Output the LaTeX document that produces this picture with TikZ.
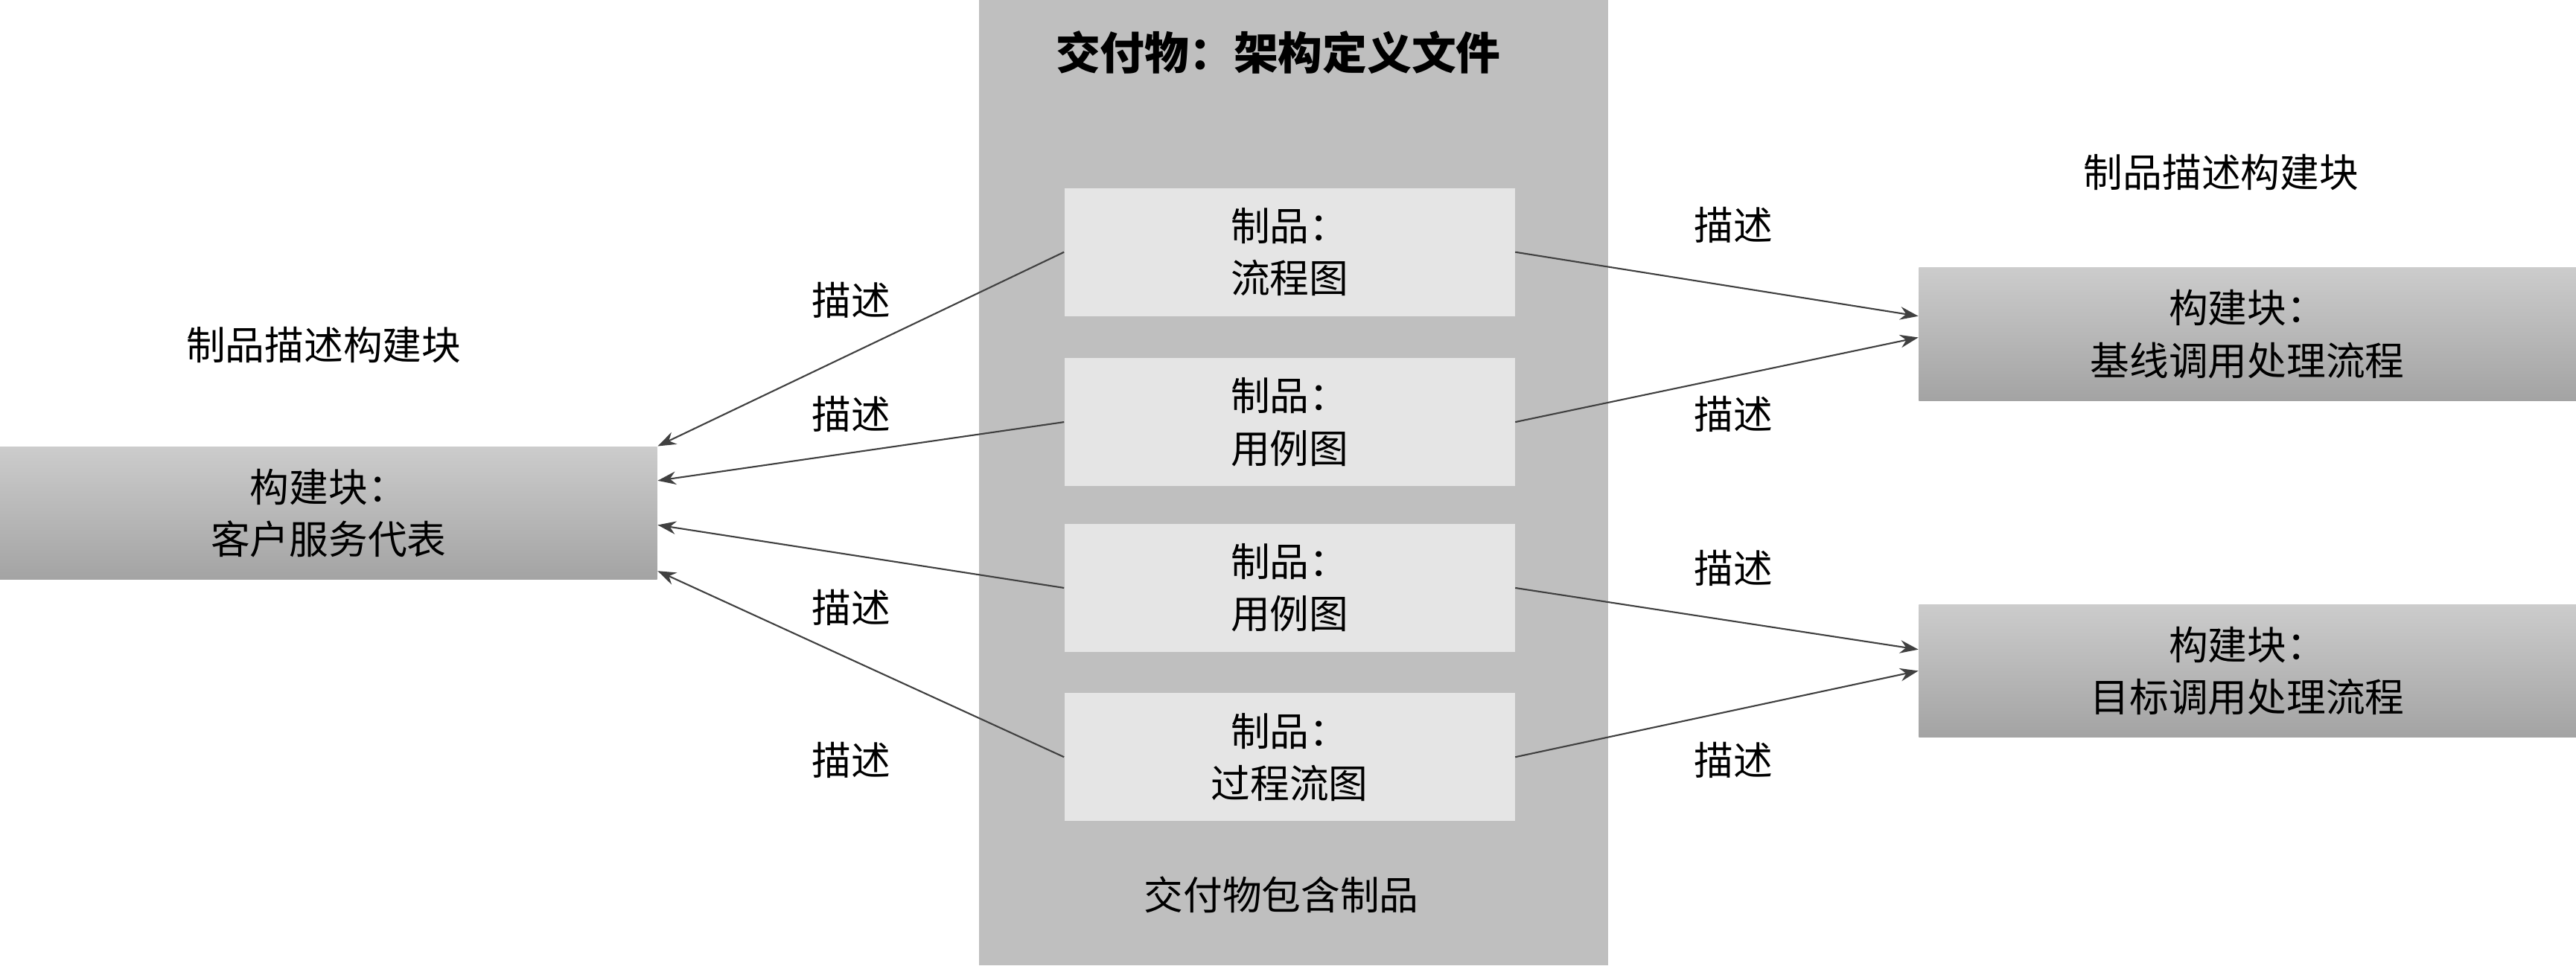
\documentclass[tikz,border=0pt]{standalone}
\usepackage{fontspec}
\setmainfont{Noto Sans CJK SC}
\usetikzlibrary{positioning,arrows.meta,calc}

\begin{document}
\begin{tikzpicture}[
  x=0.02207cm, y=-0.02207cm,
  >={Stealth[length=7pt,width=5pt]},
  txt/.style={font=\fontsize{15}{20}\selectfont, align=center},
  artifact/.style={txt, fill=gray!20, minimum width=274*0.02207cm, minimum height=78*0.02207cm, inner sep=0pt},
  block/.style={txt, top color=gray!40, bottom color=gray!72, minimum width=400*0.02207cm, minimum height=81*0.02207cm, inner sep=0pt},
  arr/.style={->, semithick, black!75},
]
\useasboundingbox (0,0) rectangle (1568,588);

% Deliverable column
\fill[gray!50] (596,0) rectangle (979,588);
\node[txt, font=\fontsize{17}{20}\selectfont\bfseries] (title) at (778,32) {交付物：架构定义文件};
\node[txt] (contains) at (780,545) {交付物包含制品};

% Artifacts
\node[artifact] (a1) at (785,153.5) {制品：\\流程图};
\node[artifact] (a2) at (785,257) {制品：\\用例图};
\node[artifact] (a3) at (785,358) {制品：\\用例图};
\node[artifact] (a4) at (785,461) {制品：\\过程流图};

% Building blocks
\node[block] (csr) at (200,312.5) {构建块：\\客户服务代表};
\node[block] (base) at (1368,203.5) {构建块：\\基线调用处理流程};
\node[block] (goal) at (1368,408.5) {构建块：\\目标调用处理流程};
\node[txt] (lbl1) at (197,210) {制品描述构建块};
\node[txt] (lbl2) at (1352,105) {制品描述构建块};

% Arrows to the left
\draw[arr] (a1.west) -- ($(csr.north east)+(0,0)$);
\draw[arr] (a2.west) -- ($(csr.north east)+(0,21)$);
\draw[arr] (a3.west) -- ($(csr.north east)+(0,48)$);
\draw[arr] (a4.west) -- ($(csr.north east)+(0,76)$);
\node[txt] (d1) at (518,183) {描述};
\node[txt] (d2) at (518,252) {描述};
\node[txt] (d3) at (518,370) {描述};
\node[txt] (d4) at (518,463) {描述};

% Arrows to the right
\draw[arr] (a1.east) -- ($(base.west)+(0,-11)$);
\draw[arr] (a2.east) -- ($(base.west)+(0,2)$);
\draw[arr] (a3.east) -- ($(goal.west)+(0,-13)$);
\draw[arr] (a4.east) -- ($(goal.west)+(0,0)$);
\node[txt] (d5) at (1055,137) {描述};
\node[txt] (d6) at (1055,252) {描述};
\node[txt] (d7) at (1055,346) {描述};
\node[txt] (d8) at (1055,463) {描述};
\end{tikzpicture}
\end{document}
